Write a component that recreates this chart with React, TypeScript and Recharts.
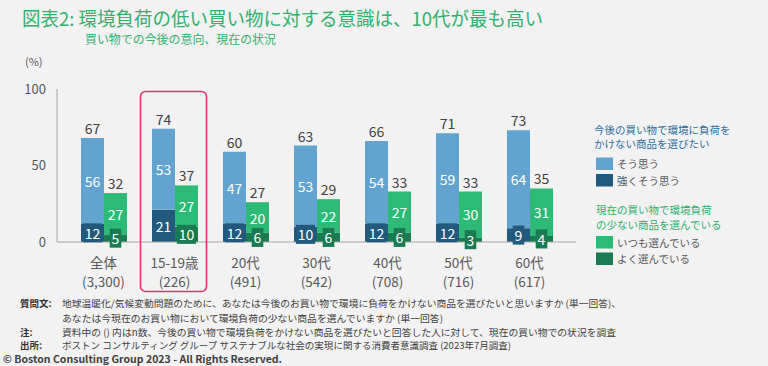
import React from 'react';
import { BarChart, Bar, XAxis, YAxis, LabelList } from 'recharts';

// ─── data ───
const categories = ['全体', '15-19歳', '20代', '30代', '40代', '50代', '60代'];
const sampleSizes = ['(3,300)', '(226)', '(491)', '(542)', '(708)', '(716)', '(617)'];
const strongAgree = [12, 21, 12, 10, 12, 12, 9];
const agree = [56, 53, 47, 53, 54, 59, 64];
const agreeTotal = [67, 74, 60, 63, 66, 71, 73];
const oftenChoose = [5, 10, 6, 6, 6, 3, 4];
const alwaysChoose = [27, 27, 20, 22, 27, 30, 31];
const chooseTotal = [32, 37, 27, 29, 33, 33, 35];
const yTicks = [0, 50, 100];

const data = categories.map((c, i) => ({
  cat: c,
  n: sampleSizes[i],
  strongAgree: strongAgree[i],
  agree: agree[i],
  oftenChoose: oftenChoose[i],
  alwaysChoose: alwaysChoose[i],
}));

const FONT = "'Noto Sans CJK JP', 'Noto Sans', sans-serif";
const LIGHT_BLUE = '#62a3cf';
const DARK_BLUE = '#225a7e';
const LIGHT_GREEN = '#2dba74';
const DARK_GREEN = '#1a7a52';
const TEXT = '#595959';

const box = (p: any) => p.viewBox ?? p;

// white number in the middle of a light segment
const innerLabel = (props: any) => {
  const { x, y, width, height } = box(props);
  return (
    <text x={x + width / 2} y={y + height / 2} dominantBaseline="central" textAnchor="middle"
      fill="#fff" fontSize={14} fontFamily={FONT}>
      {props.value}
    </text>
  );
};

// dark segments carry a small box behind the number
const boxedLabel = (color: string) => (props: any) => {
  const { x, y, width, height } = box(props);
  const txt = String(props.value);
  const w = txt.length * 7.6 + 4;
  const cx = x + width / 2;
  const cy = y + height / 2;
  return (
    <g>
      <rect x={cx - w / 2} y={cy - 9.5} width={w} height={19} fill={color} />
      <text x={cx} y={cy} dominantBaseline="central" textAnchor="middle"
        fill="#fff" fontSize={14} fontFamily={FONT}>
        {txt}
      </text>
    </g>
  );
};

const totalLabel = (totals: number[]) => (props: any) => {
  const { x, y, width } = box(props);
  return (
    <text x={x + width / 2} y={y - 10} dominantBaseline="central" textAnchor="middle"
      fill="#404040" fontSize={14} fontFamily={FONT}>
      {totals[props.index]}
    </text>
  );
};

const CatTick = (props: any) => {
  const { x, y, index } = props;
  return (
    <g>
      <text x={x} y={y + 12} dominantBaseline="central" textAnchor="middle" fill={TEXT} fontSize={13.5} fontFamily={FONT}>
        {categories[index]}
      </text>
      <text x={x} y={y + 31} dominantBaseline="central" textAnchor="middle" fill={TEXT} fontSize={13.5} fontFamily={FONT}>
        {sampleSizes[index]}
      </text>
    </g>
  );
};

const Swatch: React.FC<{ y: number; color: string; label: string }> = ({ y, color, label }) => (
  <g>
    <rect x={596} y={y - 6} width={17} height={12.5} fill={color} />
    <text x={617} y={y} dominantBaseline="central" fill={TEXT} fontSize={10.5} fontFamily={FONT}>{label}</text>
  </g>
);

const App: React.FC = () => {
  return (
    <div style={{ position: 'absolute', left: 0, top: 0, width: 768, height: 366, background: '#f2f2f2', fontFamily: FONT }}>
      <BarChart width={768} height={366} data={data} barGap={0} barSize={23}
        margin={{ top: 89, right: 192, bottom: 74, left: 0 }}>
        <XAxis dataKey="cat" height={50} interval={0} tick={<CatTick />} tickLine={false}
          axisLine={{ stroke: '#a6a6a6' }} padding={{ left: 11, right: 11 }} />
        <YAxis domain={[0, 100]} ticks={yTicks} width={57} tickLine={false} tickMargin={5}
          axisLine={{ stroke: '#a6a6a6' }}
          tick={{ fill: TEXT, fontSize: 13, fontFamily: FONT }} />
        <Bar dataKey="strongAgree" stackId="a" fill={DARK_BLUE} isAnimationActive={false}>
          <LabelList dataKey="strongAgree" content={boxedLabel(DARK_BLUE)} />
        </Bar>
        <Bar dataKey="agree" stackId="a" fill={LIGHT_BLUE} isAnimationActive={false}>
          <LabelList dataKey="agree" content={innerLabel} />
          <LabelList dataKey="agree" content={totalLabel(agreeTotal)} />
        </Bar>
        <Bar dataKey="oftenChoose" stackId="b" fill={DARK_GREEN} isAnimationActive={false}>
          <LabelList dataKey="oftenChoose" content={boxedLabel(DARK_GREEN)} />
        </Bar>
        <Bar dataKey="alwaysChoose" stackId="b" fill={LIGHT_GREEN} isAnimationActive={false}>
          <LabelList dataKey="alwaysChoose" content={innerLabel} />
          <LabelList dataKey="alwaysChoose" content={totalLabel(chooseTotal)} />
        </Bar>
      </BarChart>

      <svg width={768} height={366} style={{ position: 'absolute', left: 0, top: 0, pointerEvents: 'none' }}>
        {/* title */}
        <text x={22} y={17} dominantBaseline="central" fill="#31b06f" fontSize={19} fontFamily={FONT}
          textLength={521} lengthAdjust="spacingAndGlyphs">
          図表2: 環境負荷の低い買い物に対する意識は、10代が最も高い
        </text>
        <text x={85} y={38} dominantBaseline="central" fill="#31b06f" fontSize={12} fontFamily={FONT}
          textLength={191} lengthAdjust="spacingAndGlyphs">
          買い物での今後の意向、現在の状況
        </text>
        <text x={25} y={61} dominantBaseline="central" fill={TEXT} fontSize={11} fontFamily={FONT}>(%)</text>

        {/* highlight around 15-19 */}
        <rect x={140.5} y={91.5} width={66} height={200} rx={5} fill="none" stroke="#e2336b" strokeWidth={1.6} />

        {/* legend */}
        <text x={594} y={129} dominantBaseline="central" fill="#2c6d9c" fontSize={10.5} fontFamily={FONT}>今後の買い物で環境に負荷を</text>
        <text x={594} y={143} dominantBaseline="central" fill="#2c6d9c" fontSize={10.5} fontFamily={FONT}>かけない商品を選びたい</text>
        <Swatch y={163.5} color={LIGHT_BLUE} label="そう思う" />
        <Swatch y={180} color={DARK_BLUE} label="強くそう思う" />
        <text x={596} y={209} dominantBaseline="central" fill="#2db06f" fontSize={10.5} fontFamily={FONT}>現在の買い物で環境負荷</text>
        <text x={596} y={224} dominantBaseline="central" fill="#2db06f" fontSize={10.5} fontFamily={FONT}>の少ない商品を選んでいる</text>
        <Swatch y={242} color={LIGHT_GREEN} label="いつも選んでいる" />
        <Swatch y={258.5} color={DARK_GREEN} label="よく選んでいる" />

        {/* notes */}
        <g fontFamily={FONT} fontSize={9.5} fill="#404040" dominantBaseline="central">
          <text x={20} y={303} fontWeight="bold" fill="#333">質問文:</text>
          <text x={62} y={303} textLength={559} lengthAdjust="spacingAndGlyphs">
            地球温暖化/気候変動問題のために、あなたは今後のお買い物で環境に負荷をかけない商品を選びたいと思いますか (単一回答)、
          </text>
          <text x={62} y={318} textLength={381} lengthAdjust="spacingAndGlyphs">
            あなたは今現在のお買い物において環境負荷の少ない商品を選んでいますか (単一回答)
          </text>
          <text x={20} y={332} fontWeight="bold" fill="#333">注:</text>
          <text x={62} y={332} textLength={554} lengthAdjust="spacingAndGlyphs">
            資料中の () 内はn数、今後の買い物で環境負荷をかけない商品を選びたいと回答した人に対して、現在の買い物での状況を調査
          </text>
          <text x={20} y={345} fontWeight="bold" fill="#333">出所:</text>
          <text x={62} y={345} textLength={449} lengthAdjust="spacingAndGlyphs">
            ボストン コンサルティング グループ サステナブルな社会の実現に関する消費者意識調査 (2023年7月調査)
          </text>
          <text x={3} y={358} fontWeight="bold" fontSize={10} textLength={279} lengthAdjust="spacingAndGlyphs">
            © Boston Consulting Group 2023 - All Rights Reserved.
          </text>
        </g>
      </svg>
    </div>
  );
};

export default App;
